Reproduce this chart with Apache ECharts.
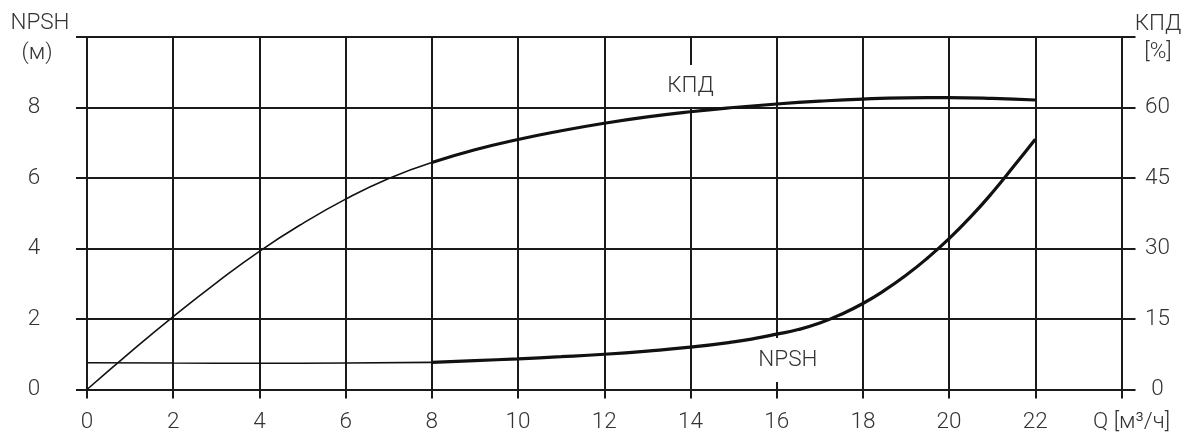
<!DOCTYPE html>
<html>
<head>
<meta charset="utf-8">
<script src="https://cdn.jsdelivr.net/npm/echarts@6/dist/echarts.min.js"></script>
<style>
html,body{margin:0;padding:0;background:#fff;}
#chart{width:1191px;height:439px;}
</style>
</head>
<body>
<div id="chart"></div>
<script>
// Efficiency curve: flow Q [m3/h] and КПД [%]
var qKpd = [0, 1, 2, 3, 4, 5, 6, 7, 8, 9, 10, 11, 12, 13, 14, 15, 16, 17, 18, 19, 20, 21, 22];
var kpdValues = [0, 7.9, 15.5, 22.7, 29.4, 35.3, 40.5, 44.9, 48.3, 51.0, 53.2, 55.05, 56.65, 58.0, 59.1, 60.0, 60.75, 61.35, 61.8, 62.05, 62.1, 61.95, 61.6];
// NPSH curve: flow Q [m3/h] and NPSH [m]
var qNpsh = [0, 2, 4, 6, 8, 9, 10, 11, 12, 13, 14, 15, 15.5, 16, 16.5, 17, 17.5, 18, 18.5, 19, 19.5, 20, 20.5, 21, 21.5, 22];
var npshValues = [0.76, 0.75, 0.745, 0.75, 0.77, 0.82, 0.87, 0.93, 1.0, 1.09, 1.2, 1.35, 1.45, 1.57, 1.70, 1.885, 2.135, 2.44, 2.81, 3.24, 3.73, 4.28, 4.895, 5.58, 6.33, 7.1];
var thickFromQ = 8;

var xTicks = [0, 2, 4, 6, 8, 10, 12, 14, 16, 18, 20, 22];
var leftTicks = [0, 2, 4, 6, 8];
var rightTicks = [0, 15, 30, 45, 60];

function part(qs, vals, thick) {
  var out = [];
  for (var i = 0; i < qs.length; i++) {
    var q = qs[i];
    if (thick ? q >= thickFromQ : q <= thickFromQ) out.push([q, vals[i]]);
  }
  return out;
}

var FONT = 'Roboto';
var FS = 22.5;
var TXT = '#333';
var LINE = '#1a1a1a';
var chart = echarts.init(document.getElementById('chart'), null, {renderer: 'canvas'});

var lbl = {fontSize: FS, fontFamily: FONT, fontWeight: 300, color: TXT};
function curve(name, axis, data, width) {
  return {type: 'line', name: name, yAxisIndex: axis, data: data, smooth: 0.5,
          showSymbol: false, z: 5, lineStyle: {color: '#111', width: width}};
}
var option = {
  backgroundColor: '#fff',
  animation: false,
  grid: {left: 87, right: 69.5, top: 37, bottom: 49.5},
  xAxis: {
    type: 'value', min: 0, max: 24, interval: 2,
    axisLine: {show: true, lineStyle: {color: LINE, width: 2}},
    axisTick: {show: true, inside: false, length: 9, lineStyle: {color: LINE, width: 2}},
    splitLine: {show: true, lineStyle: {color: LINE, width: 2}},
    axisLabel: Object.assign({margin: 21,
      formatter: function (v) { return xTicks.indexOf(v) >= 0 ? String(v) : ''; }}, lbl)
  },
  yAxis: [{
    type: 'value', min: 0, max: 10, interval: 2, position: 'left',
    axisLine: {show: true, lineStyle: {color: LINE, width: 2}},
    axisTick: {show: true, inside: false, length: 11, lineStyle: {color: LINE, width: 2}},
    splitLine: {show: true, lineStyle: {color: LINE, width: 2}},
    axisLabel: Object.assign({margin: 53, align: 'center',
      formatter: function (v) { return leftTicks.indexOf(v) >= 0 ? String(v) : ''; }}, lbl)
  }, {
    type: 'value', min: 0, max: 75, interval: 15, position: 'right',
    axisLine: {show: true, lineStyle: {color: LINE, width: 2}},
    axisTick: {show: true, inside: false, length: 14, lineStyle: {color: LINE, width: 2}},
    splitLine: {show: false},
    axisLabel: Object.assign({margin: 36, align: 'center',
      formatter: function (v) { return rightTicks.indexOf(v) >= 0 ? String(v) : ''; }}, lbl)
  }],
  series: [
    curve('КПД', 1, part(qKpd, kpdValues, false), 1.6),
    curve('КПД', 1, part(qKpd, kpdValues, true), 3.2),
    curve('NPSH', 0, part(qNpsh, npshValues, false), 1.6),
    curve('NPSH', 0, part(qNpsh, npshValues, true), 3.2)
  ]
};
chart.setOption(option);

// Curve labels placed in data space (Q, NPSH-scale)
var curveLabels = [
  {text: 'КПД', at: [14.0, 8.61], w: 68, h: 42},
  {text: 'NPSH', at: [16.26, 0.84], w: 78, h: 44}
];
var gfx = [];
var font = '300 ' + FS + 'px ' + FONT;
curveLabels.forEach(function (l) {
  var p = chart.convertToPixel({xAxisIndex: 0, yAxisIndex: 0}, l.at);
  gfx.push({type: 'rect', z: 3, shape: {x: p[0] - l.w / 2, y: p[1] - l.h / 2, width: l.w, height: l.h}, style: {fill: '#fff'}});
  gfx.push({type: 'text', z: 6, x: p[0], y: p[1], style: {text: l.text, font: font, fill: TXT, align: 'center', verticalAlign: 'middle'}});
});
// Axis titles
var g = chart.getModel().getComponent('grid').coordinateSystem.getRect();
var axisTitles = [
  {text: 'NPSH', x: 40, y: 23},
  {text: '(м)', x: 37, y: 53},
  {text: 'КПД', x: 1158, y: 24},
  {text: '[%]', x: 1158, y: 52}
];
axisTitles.forEach(function (t) {
  gfx.push({type: 'text', z: 6, x: t.x, y: t.y, style: {text: t.text, font: font, fill: TXT, align: 'center', verticalAlign: 'middle'}});
});
gfx.push({type: 'text', z: 6, x: 1093, y: g.y + g.height + 33, style: {text: 'Q [м³/ч]', font: font, fill: TXT, align: 'left', verticalAlign: 'middle'}});
chart.setOption({graphic: gfx});
</script>
</body>
</html>
